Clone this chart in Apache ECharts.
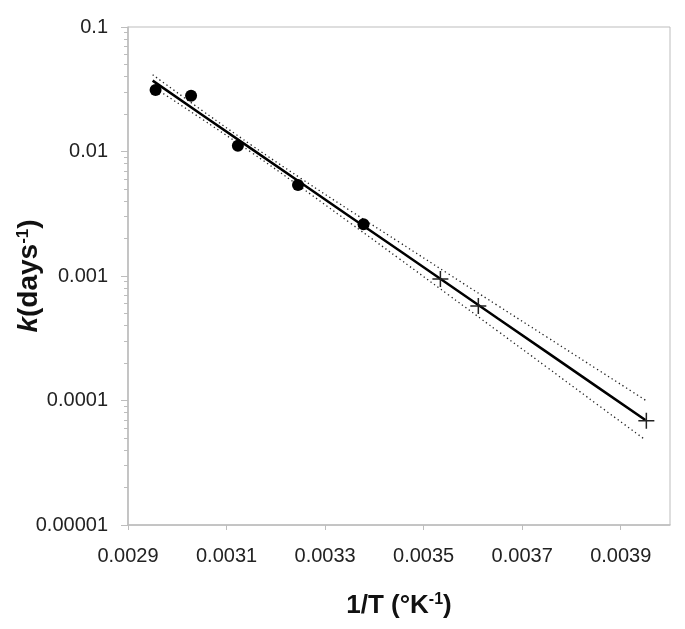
<!DOCTYPE html>
<html>
<head>
<meta charset="utf-8">
<script src="https://cdn.jsdelivr.net/npm/echarts@6/dist/echarts.min.js"></script>
<style>
  html, body { margin: 0; padding: 0; background: #fff; }
  #chart { width: 685px; height: 629px; }
</style>
</head>
<body>
<div id="chart"></div>
<script>
// measured rates (filled circles)
const measX = [0.002956, 0.003028, 0.003123, 0.003245, 0.003378];
const measK = [0.0312, 0.0281, 0.0111, 0.00538, 0.0026];
// extrapolated rates (crosses)
const extX = [0.003534, 0.003611, 0.003952];
const extK = [0.000946, 0.000574, 0.0000689];
// regression line and its confidence band
const fitX = [0.00295, 0.00305, 0.00315, 0.00325, 0.00335, 0.00345, 0.00355, 0.00365, 0.00375, 0.00385, 0.00395];
const fitK = [0.0371, 0.01975, 0.01055, 0.005636, 0.003005, 0.001608, 0.000858, 0.000458, 0.0002447, 0.0001305, 0.0000697];
const upperK = [0.0414, 0.0214, 0.01129, 0.006118, 0.003368, 0.001874, 0.001041, 0.00058, 0.0003236, 0.0001804, 0.0001007];
const lowerK = [0.0332, 0.01822, 0.00986, 0.005192, 0.002682, 0.001381, 0.000707, 0.000362, 0.0001851, 0.0000944, 0.0000483];
// axis ticks
const xTicks = [0.0029, 0.0031, 0.0033, 0.0035, 0.0037, 0.0039];
const yMinorTicks = [
  0.00002, 0.00003, 0.00004, 0.00005, 0.00006, 0.00007, 0.00008, 0.00009,
  0.0002, 0.0003, 0.0004, 0.0005, 0.0006, 0.0007, 0.0008, 0.0009,
  0.002, 0.003, 0.004, 0.005, 0.006, 0.007, 0.008, 0.009,
  0.02, 0.03, 0.04, 0.05, 0.06, 0.07, 0.08, 0.09
];

const zip = (xs, ys) => xs.map((x, i) => [x, ys[i]]);
const axisGray = '#bdbdbd';
const font = '"Liberation Sans", Arial, sans-serif';

const chart = echarts.init(document.getElementById('chart'));

const dotted = {
  type: 'line',
  symbol: 'none',
  smooth: true,
  silent: true,
  lineStyle: { color: '#222', width: 1.3, type: [1.3, 3] },
  z: 2
};

chart.setOption({
  animation: false,
  grid: {
    left: 128, top: 27, right: 15, bottom: 104,
    outerBoundsMode: 'none',
    containLabel: false,
    show: true, borderColor: axisGray, borderWidth: 1
  },
  xAxis: {
    type: 'value',
    min: 0.0029,
    max: 0.004,
    name: '{b|1/T (°K}{sup|-1}{b|)}',
    nameLocation: 'middle',
    nameGap: 67,
    nameMoveOverlap: false,
    nameTextStyle: {
      rich: {
        b: { fontFamily: font, fontSize: 26, fontWeight: 'bold', color: '#111' },
        sup: { fontFamily: font, fontSize: 16, fontWeight: 'bold', color: '#111', verticalAlign: 'top', padding: [0, 0, 12, 0] }
      }
    },
    axisLine: { lineStyle: { color: axisGray, width: 1.5 } },
    axisTick: { customValues: xTicks, length: 5, lineStyle: { color: axisGray } },
    axisLabel: {
      customValues: xTicks,
      formatter: v => v.toFixed(4),
      fontFamily: font, fontSize: 20, color: '#222', margin: 21
    },
    splitLine: { show: false }
  },
  yAxis: [{
    type: 'log',
    logBase: 10,
    min: 0.00001,
    max: 0.1,
    name: '{k|k}{b|(days}{sup|-1}{b|)}',
    nameLocation: 'middle',
    nameGap: 84,
    nameMoveOverlap: false,
    nameTextStyle: {
      rich: {
        k: { fontFamily: font, fontSize: 28, fontWeight: 'bold', fontStyle: 'italic', color: '#111' },
        b: { fontFamily: font, fontSize: 28, fontWeight: 'bold', color: '#111' },
        sup: { fontFamily: font, fontSize: 17, fontWeight: 'bold', color: '#111', verticalAlign: 'top', padding: [0, 0, 12, 0] }
      }
    },
    axisLine: { show: true, lineStyle: { color: axisGray, width: 1.5 } },
    axisTick: { show: true, length: 7, lineStyle: { color: axisGray } },
    axisLabel: {
      formatter: v => v.toFixed(Math.max(1, Math.round(-Math.log10(v)))),
      fontFamily: font, fontSize: 20, color: '#222', margin: 20
    },
    splitLine: { show: false }
  }, {
    // minor ticks 2..9 in each decade
    type: 'log',
    logBase: 10,
    min: 0.00001,
    max: 0.1,
    position: 'left',
    axisLine: { show: false },
    axisTick: { show: true, customValues: yMinorTicks, length: 4, lineStyle: { color: axisGray } },
    axisLabel: { show: false },
    splitLine: { show: false }
  }],
  series: [
    Object.assign({ name: 'upper', data: zip(fitX, upperK) }, dotted),
    Object.assign({ name: 'lower', data: zip(fitX, lowerK) }, dotted),
    {
      name: 'fit',
      type: 'line',
      data: zip(fitX, fitK),
      symbol: 'none',
      lineStyle: { color: '#000', width: 2.5 },
      z: 3
    },
    {
      name: 'measured',
      type: 'scatter',
      data: zip(measX, measK),
      symbol: 'circle',
      symbolSize: 12,
      itemStyle: { color: '#000', opacity: 1 },
      z: 4
    },
    {
      name: 'extrapolated',
      type: 'scatter',
      data: zip(extX, extK),
      symbol: 'path://M0,8H16M8,0V16',
      symbolSize: 16,
      itemStyle: { color: 'none', borderColor: '#222', borderWidth: 1.5, opacity: 1 },
      z: 4
    }
  ]
});
</script>
</body>
</html>
